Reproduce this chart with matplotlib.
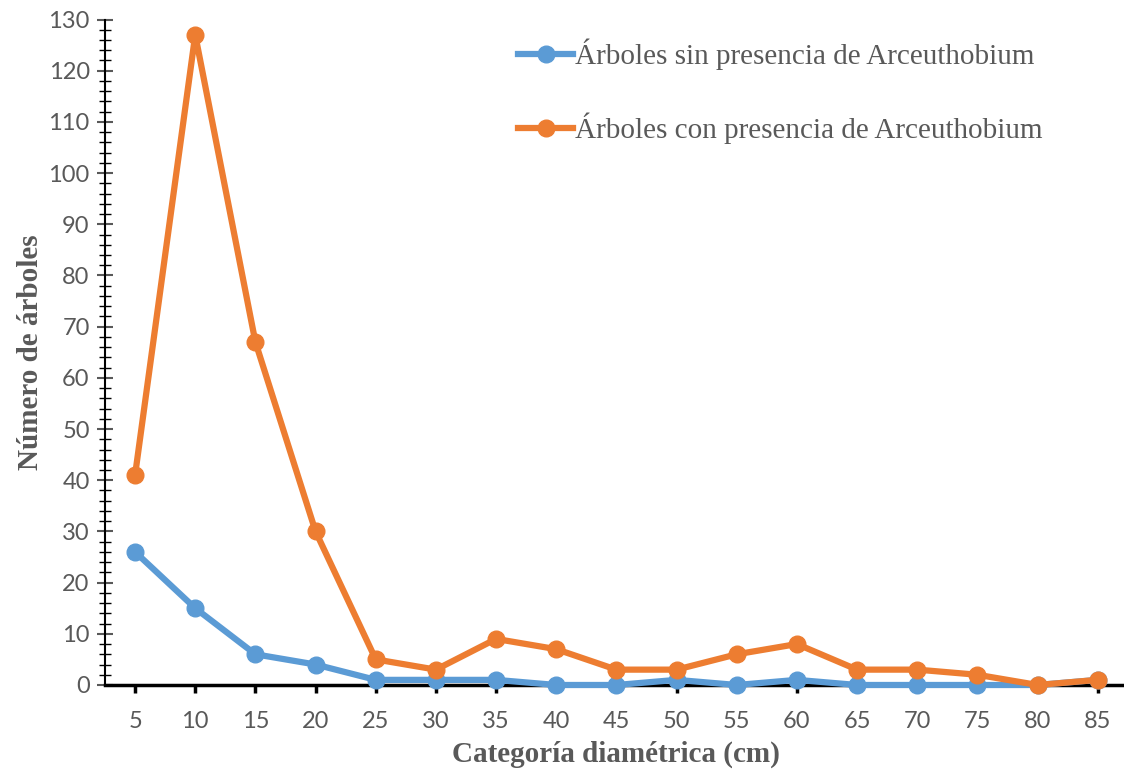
import numpy as np
import matplotlib.pyplot as plt
from matplotlib.ticker import MultipleLocator

categorias = ['5', '10', '15', '20', '25', '30', '35', '40', '45', '50',
              '55', '60', '65', '70', '75', '80', '85']
sin_arceuthobium = [26, 15, 6, 4, 1, 1, 1, 0, 0, 1, 0, 1, 0, 0, 0, 0, 1]
con_arceuthobium = [41, 127, 67, 30, 5, 3, 9, 7, 3, 3, 6, 8, 3, 3, 2, 0, 1]

azul = '#5B9BD5'
naranja = '#ED7D31'
gris = '#595959'

plt.rcParams['font.family'] = ['Lato', 'DejaVu Sans']

x = np.arange(len(categorias))

fig = plt.figure(figsize=(11.24, 7.72), dpi=100)
ax = fig.add_axes([0.0934, 0.1127, 0.91, 0.862])

ax.plot(x, sin_arceuthobium, color=azul, lw=4.5, marker='o', ms=12,
        label='Árboles sin presencia de Arceuthobium', zorder=3, clip_on=False)
ax.plot(x, con_arceuthobium, color=naranja, lw=4.5, marker='o', ms=12,
        label='Árboles con presencia de Arceuthobium', zorder=4, clip_on=False)

ax.set_xlim(-0.5, len(categorias) - 0.5)
ax.set_ylim(0, 130)
ax.set_xticks(x)
ax.set_xticklabels(categorias)
ax.yaxis.set_major_locator(MultipleLocator(10))
ax.yaxis.set_minor_locator(MultipleLocator(2))

for s in ['top', 'right']:
    ax.spines[s].set_visible(False)
ax.spines['left'].set_linewidth(1.5)
ax.spines['bottom'].set_linewidth(2.5)

ax.tick_params(axis='y', which='major', direction='inout', length=12, width=1.5,
               labelsize=17, labelcolor=gris, color=gris, pad=5)
ax.tick_params(axis='y', which='minor', direction='inout', length=8, width=1, color='black')
ax.tick_params(axis='x', which='major', direction='out', length=6, width=2.5,
               labelsize=17, labelcolor=gris, pad=13)

ax.set_ylabel('Número de árboles', family='Liberation Serif', fontsize=21,
              fontweight='bold', color=gris, labelpad=3)
ax.set_xlabel('Categoría diamétrica (cm)', family='Liberation Serif', fontsize=21,
              fontweight='bold', color=gris, labelpad=6)

leg = ax.legend(loc='upper left', bbox_to_anchor=(518 / 1124, 1 - 39 / 772),
                bbox_transform=fig.transFigure, frameon=False, borderpad=0,
                borderaxespad=0, prop={'family': 'Liberation Serif', 'size': 21},
                handlelength=1.9, handletextpad=0.05, labelspacing=1.45)
for t in leg.get_texts():
    t.set_color(gris)

fig.savefig('out.png', dpi=100)
